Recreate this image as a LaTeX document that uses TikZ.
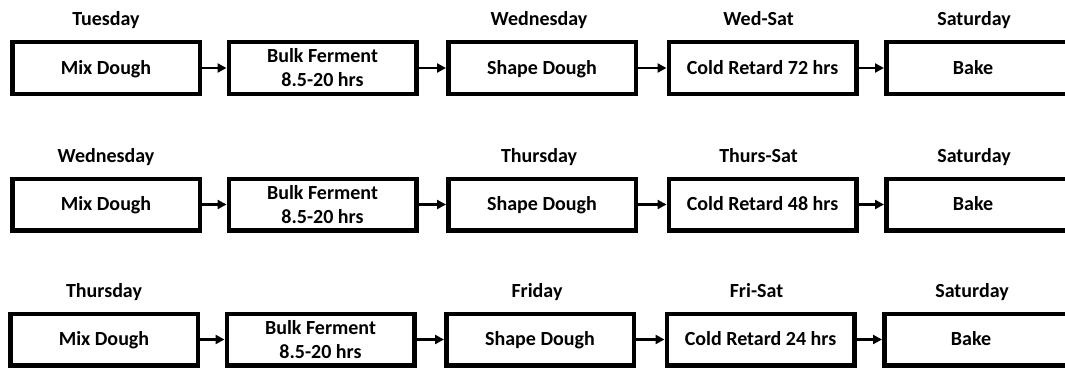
\documentclass[tikz,border=0pt]{standalone}
\usepackage{fontspec}
\setmainfont{Carlito}
\usetikzlibrary{arrows.meta}
\begin{document}
\begin{tikzpicture}[x=1pt,y=-1pt,
  stepbox/.style={draw, line width=4.5pt, minimum width=187.5pt, minimum height=51.5pt, inner sep=0pt, align=center, font=\bfseries\fontsize{20}{24}\selectfont},
  onebox/.style={stepbox, text height=16pt, text depth=3.1pt},
  daylbl/.style={anchor=base, inner sep=0pt, font=\bfseries\fontsize{20}{24}\selectfont},
  flow/.style={line width=2.5pt, -{Triangle[length=9pt,width=9pt]}}]
\useasboundingbox (0,0) rectangle (1065,369);
\clip (0,0) rectangle (1065,369);
\foreach \r/\y/\dx/\da/\db/\dc/\hrs in {1/68/0/Tuesday/Wednesday/Wed-Sat/72, 2/204.5/0/Wednesday/Thursday/Thurs-Sat/48, 3/339.5/-2/Thursday/Friday/Fri-Sat/24}{
  \node[onebox] (m\r) at (106+\dx,\y) {Mix Dough};
  \node[stepbox] (b\r) at (322.5+\dx,\y) {Bulk Ferment\\8.5-20 hrs};
  \node[onebox] (s\r) at (542+\dx,\y) {Shape Dough};
  \node[onebox] (c\r) at (762.5+\dx,\y) {Cold Retard \hrs{} hrs};
  \node[onebox] (k\r) at (980+\dx,\y) {\hspace*{-14pt}Bake};
  \node[daylbl] (la\r) at ([yshift=14pt]m\r.north) {\da};
  \node[daylbl] (lb\r) at ([xshift=-3pt,yshift=14pt]s\r.north) {\db};
  \node[daylbl] (lc\r) at ([xshift=-4pt,yshift=14pt]c\r.north) {\dc};
  \node[daylbl] (ld\r) at ([xshift=-6pt,yshift=14pt]k\r.north) {Saturday};
  \draw[flow] (m\r) -- (b\r);
  \draw[flow] (b\r) -- (s\r);
  \draw[flow] (s\r) -- (c\r);
  \draw[flow] (c\r) -- (k\r);
}
\end{tikzpicture}
\end{document}
